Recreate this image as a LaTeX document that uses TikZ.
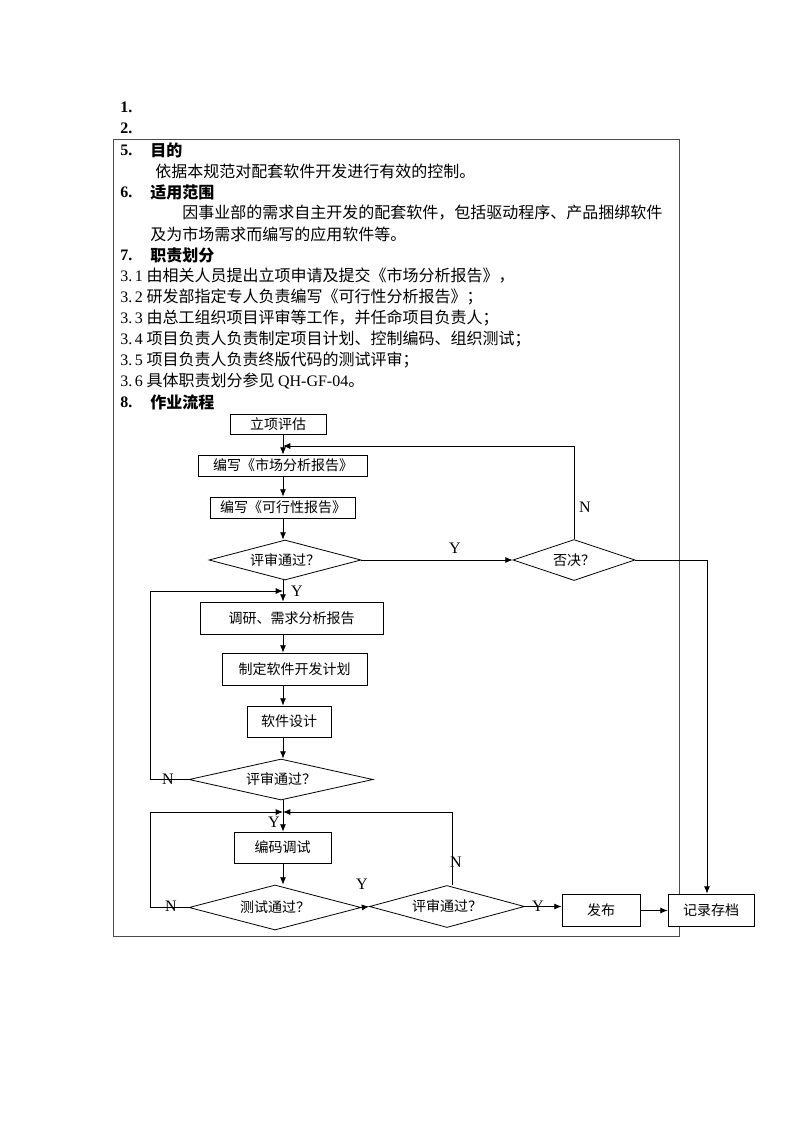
\documentclass[tikz,border=0pt]{standalone}
\usepackage{fontspec}
\setmainfont{Noto Sans CJK SC}
\newfontfamily\tnr{Liberation Serif}
\usetikzlibrary{arrows.meta, positioning, shapes.geometric}

\begin{document}
\begin{tikzpicture}[
    x=0.75pt, y=-0.75pt,
    every node/.style={inner sep=0pt},
    line/.style={anchor=west, font=\fontsize{12}{14}\selectfont},
    head/.style={anchor=west, font=\fontsize{12}{14}\selectfont\bfseries},
    num/.style={anchor=west, font=\fontsize{12}{14}\selectfont\tnr\bfseries},
    box/.style={draw, rectangle, line width=0.6pt, fill=white, align=center, font=\fontsize{10.5}{12}\selectfont},
    decision/.style={draw, shape=diamond, aspect=4, line width=0.6pt, fill=white, align=center, font=\fontsize{10.5}{12}\selectfont},
    yn/.style={font=\fontsize{12}{14}\selectfont\tnr},
    arrow/.style={-{Latex[length=5.5pt, width=4.5pt]}, line width=0.6pt}
]
\useasboundingbox (0,0) rectangle (800,1132);

% numbers above the frame
\node[num] (n1) at (120,107) {1.};
\node[num] (n2) at (120,128) {2.};

% frame
\draw[line width=0.6pt, black!70] (113,139) rectangle (679,936);

% text part
\node[num] (n5) at (120,150) {5.};
\node[head] (purpose) at (150,150) {目的};
\node[line] (purposetxt) at (155,171) {依据本规范对配套软件开发进行有效的控制。};
\node[num] (n6) at (120,192) {6.};
\node[head] (scope) at (150,192) {适用范围};
\node[line] (scopetxt1) at (182,213) {因事业部的需求自主开发的配套软件，包括驱动程序、产品捆绑软件};
\node[line] (scopetxt2) at (150,234) {及为市场需求而编写的应用软件等。};
\node[num] (n7) at (120,255) {7.};
\node[head] (duty) at (150,255) {职责划分};
\node[line] (duty1) at (120,276) {{\tnr 3.\,1} 由相关人员提出立项申请及提交《市场分析报告》，};
\node[line] (duty2) at (120,297) {{\tnr 3.\,2} 研发部指定专人负责编写《可行性分析报告》；};
\node[line] (duty3) at (120,318) {{\tnr 3.\,3} 由总工组织项目评审等工作，并任命项目负责人；};
\node[line] (duty4) at (120,339) {{\tnr 3.\,4} 项目负责人负责制定项目计划、控制编码、组织测试；};
\node[line] (duty5) at (120,360) {{\tnr 3.\,5} 项目负责人负责终版代码的测试评审；};
\node[line] (duty6) at (120,381) {{\tnr 3.\,6} 具体职责划分参见 {\tnr QH-GF-04}。};
\node[num] (n8) at (120,402) {8.};
\node[head] (flow) at (150,402) {作业流程};

% flow chart
\coordinate (axis) at (283,0);
\node[box, minimum width=72pt, minimum height=15pt] (assess) at (278,424) {立项评估};
\node[box, minimum width=126.75pt, minimum height=15.75pt] (market) at (283,465.5) {编写《市场分析报告》};
\node[box, minimum width=108.75pt, minimum height=15.75pt] (feasible) at (283,507.5) {编写《可行性报告》};
\node[decision, minimum width=114pt, minimum height=30pt] (review1) at (285,560) {评审通过？};
\node[decision, minimum width=91.5pt, minimum height=30.75pt] (veto) at (574,560) {否决？};
\node[box, minimum width=137.25pt, minimum height=24pt] (research) at (291.5,618) {调研、需求分析报告};
\node[box, minimum width=108.75pt, minimum height=24pt] (plan) at (294.5,669) {制定软件开发计划};
\node[box, minimum width=63pt, minimum height=23.25pt] (design) at (289,721.5) {软件设计};
\node[decision, minimum width=138pt, minimum height=30.75pt] (review2) at (281,779.5) {评审通过？};
\node[box, minimum width=72.75pt, minimum height=23.25pt] (coding) at (282.5,847.5) {编码调试};
\node[decision, minimum width=129pt, minimum height=33.75pt] (test) at (275,907.5) {测试通过？};
\node[decision, minimum width=116.25pt, minimum height=31.5pt] (review3) at (447,906.5) {评审通过？};
\node[box, minimum width=58.5pt, minimum height=24pt] (publish) at (601,910.5) {发布};
\node[box, minimum width=64.5pt, minimum height=24pt] (archive) at (711,910) {记录存档};

% joints on the main line
\coordinate (join1) at (283,446);
\coordinate (join2) at (283,591);
\coordinate (join3) at (283,812);

% arrows
\draw[arrow] (assess.south -| axis) -- (market.north -| axis);
\draw[arrow] (market.south -| axis) -- (feasible.north -| axis);
\draw[arrow] (feasible.south -| axis) -- (review1.north -| axis);
\draw[arrow] (review1.east) -- (veto.west);
\draw[arrow] (veto.north) |- (join1);
\draw[arrow] (veto.east) -| ([xshift=-3pt]archive.north);
\draw[arrow] (review1.south -| axis) -- (research.north -| axis);
\draw[arrow] (research.south -| axis) -- (plan.north -| axis);
\draw[arrow] (plan.south -| axis) -- (design.north -| axis);
\draw[arrow] (design.south -| axis) -- (review2.north -| axis);
\draw[arrow] (review2.west) -- ++(-38,0) |- (join2);
\draw[arrow] (review2.south -| axis) -- (coding.north -| axis);
\draw[arrow] (coding.south -| axis) -- (test.north -| axis);
\draw[arrow] (test.west) -- ++(-38,0) |- (join3);
\draw[arrow] (test.east) -- (review3.west);
\draw[arrow] ([xshift=4pt]review3.north) |- (join3);
\draw[arrow] (review3.east) -- (review3.east -| publish.west);
\draw[arrow] (publish.east) -- (publish.east -| archive.west);

% labels
\node[yn] (yveto) at (455,548) {Y};
\node[yn] (nveto) at (585,507) {N};
\node[yn] (yrev1) at (297,591) {Y};
\node[yn] (nrev2) at (168,779) {N};
\node[yn] (yrev2) at (274,822) {Y};
\node[yn] (ntest) at (171,906) {N};
\node[yn] (ytest) at (362,884) {Y};
\node[yn] (nrev3) at (456,862) {N};
\node[yn] (yrev3) at (538,906) {Y};

\end{tikzpicture}
\end{document}
